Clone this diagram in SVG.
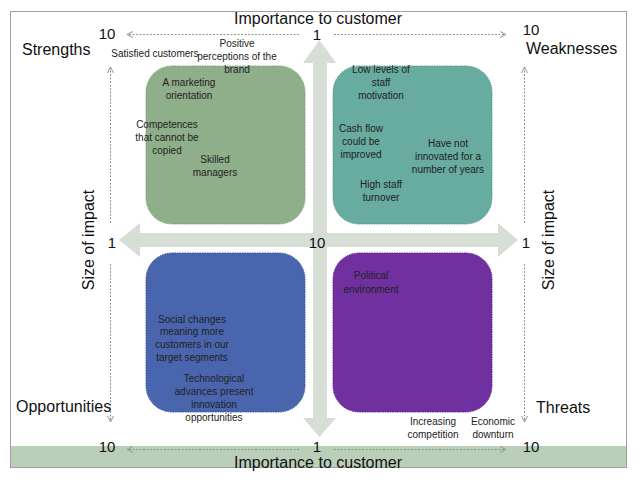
<svg xmlns="http://www.w3.org/2000/svg" width="638" height="479" viewBox="0 0 638 479">
<defs>
<style>
.big{font-family:"Liberation Sans",Arial,sans-serif;font-size:16px;fill:#111;}
.num{font-family:"Liberation Sans",Arial,sans-serif;font-size:15px;fill:#111;}
.sm{font-family:"Liberation Sans",Arial,sans-serif;font-size:10px;fill:#222;text-anchor:middle;}
.dot{stroke:#8a9a88;stroke-width:1;stroke-dasharray:2 1.5;fill:none;}
.box{stroke-width:1;stroke-dasharray:1.5 1;}
</style>
<marker id="ah" viewBox="0 0 8 8" refX="7" refY="4" markerWidth="8" markerHeight="8" orient="auto" markerUnits="userSpaceOnUse">
<path d="M1,1 L7,4 L1,7" fill="none" stroke="#8a9a88" stroke-width="1"/>
</marker>
</defs>
<rect x="0" y="0" width="638" height="479" fill="#fff"/>
<rect x="10.5" y="11.5" width="616" height="456" fill="#fff" stroke="#a0a0a0" stroke-width="1"/>
<rect x="11" y="446" width="615" height="21" fill="#bacfb8"/>

<g id="cross">
<path d="M319.5,40 L336,63 L327,63 L327,233 L498,233 L498,223 L518,240 L498,257 L498,247 L327,247 L327,418 L336,418 L319.5,437 L303,418 L313,418 L313,247 L140,247 L140,257 L119,240 L140,223 L140,233 L313,233 L313,63 L303,63 Z" fill="#d6ded6"/>
</g>

<g id="strengths-box"><rect class="box" x="146" y="66" width="159" height="158" rx="26" fill="#8fae8a" stroke="#7d9c78"/></g>
<g id="weaknesses-box"><rect class="box" x="333" y="66" width="159" height="158" rx="26" fill="#68ab9f" stroke="#589b8f"/></g>
<g id="opportunities-box"><rect class="box" x="146" y="253" width="159" height="159" rx="26" fill="#4865ae" stroke="#3a569e"/></g>
<g id="threats-box"><rect class="box" x="333" y="253" width="159" height="159" rx="26" fill="#7030a0" stroke="#602490"/></g>

<g id="connectors">
<line class="dot" x1="299" y1="34.5" x2="127" y2="34.5" marker-end="url(#ah)"/>
<line class="dot" x1="334" y1="34.5" x2="506" y2="34.5" marker-end="url(#ah)"/>
<line class="dot" x1="299" y1="449.5" x2="127" y2="449.5" marker-end="url(#ah)"/>
<line class="dot" x1="334" y1="449.5" x2="506" y2="449.5" marker-end="url(#ah)"/>
<line class="dot" x1="110.5" y1="223" x2="110.5" y2="67" marker-end="url(#ah)"/>
<line class="dot" x1="110.5" y1="264" x2="110.5" y2="422" marker-end="url(#ah)"/>
<line class="dot" x1="524.5" y1="223" x2="524.5" y2="67" marker-end="url(#ah)"/>
<line class="dot" x1="524.5" y1="264" x2="524.5" y2="422" marker-end="url(#ah)"/>
</g>

<g id="axis-labels">
<text class="big" x="318" y="24" text-anchor="middle">Importance to customer</text>
<text class="big" x="318" y="468" text-anchor="middle">Importance to customer</text>
<text class="num" x="107" y="39" text-anchor="middle">10</text>
<text class="num" x="317" y="40" text-anchor="middle">1</text>
<text class="num" x="531" y="35" text-anchor="middle">10</text>
<text class="num" x="107" y="452" text-anchor="middle">10</text>
<text class="num" x="317" y="452" text-anchor="middle">1</text>
<text class="num" x="531" y="452" text-anchor="middle">10</text>
<text class="num" x="112" y="248" text-anchor="middle">1</text>
<text class="num" x="317" y="248" text-anchor="middle">10</text>
<text class="num" x="526" y="248" text-anchor="middle">1</text>
<text class="big" transform="translate(94,240) rotate(-90)" text-anchor="middle">Size of impact</text>
<text class="big" transform="translate(554,240) rotate(-90)" text-anchor="middle">Size of impact</text>
<text class="big" x="22" y="55">Strengths</text>
<text class="big" x="526" y="54">Weaknesses</text>
<text class="big" x="16" y="412">Opportunities</text>
<text class="big" x="536" y="413">Threats</text>
</g>

<g id="strengths-items">
<text class="sm" x="155" y="57">Satisfied customers</text>
<text class="sm" x="237" y="47">Positive</text>
<text class="sm" x="237" y="60">perceptions of the</text>
<text class="sm" x="237" y="73">brand</text>
<text class="sm" x="189" y="86">A marketing</text>
<text class="sm" x="189" y="99">orientation</text>
<text class="sm" x="167" y="128">Competences</text>
<text class="sm" x="167" y="141">that cannot be</text>
<text class="sm" x="167" y="154">copied</text>
<text class="sm" x="215" y="163">Skilled</text>
<text class="sm" x="215" y="176">managers</text>
</g>
<g id="weaknesses-items">
<text class="sm" x="381" y="73">Low levels of</text>
<text class="sm" x="381" y="86">staff</text>
<text class="sm" x="381" y="99">motivation</text>
<text class="sm" x="361" y="132">Cash flow</text>
<text class="sm" x="361" y="145">could be</text>
<text class="sm" x="361" y="158">improved</text>
<text class="sm" x="448" y="147">Have not</text>
<text class="sm" x="448" y="160">innovated for a</text>
<text class="sm" x="448" y="173">number of years</text>
<text class="sm" x="381" y="188">High staff</text>
<text class="sm" x="381" y="201">turnover</text>
</g>
<g id="opportunities-items">
<text class="sm" x="192" y="323">Social changes</text>
<text class="sm" x="192" y="335">meaning more</text>
<text class="sm" x="192" y="348">customers in our</text>
<text class="sm" x="192" y="361">target segments</text>
<text class="sm" x="214" y="382">Technological</text>
<text class="sm" x="214" y="395">advances present</text>
<text class="sm" x="214" y="408">innovation</text>
<text class="sm" x="214" y="421">opportunities</text>
</g>
<g id="threats-items">
<text class="sm" x="371" y="279">Political</text>
<text class="sm" x="371" y="293">environment</text>
<text class="sm" x="433" y="425">Increasing</text>
<text class="sm" x="433" y="438">competition</text>
<text class="sm" x="493" y="425">Economic</text>
<text class="sm" x="493" y="438">downturn</text>
</g>
</svg>
